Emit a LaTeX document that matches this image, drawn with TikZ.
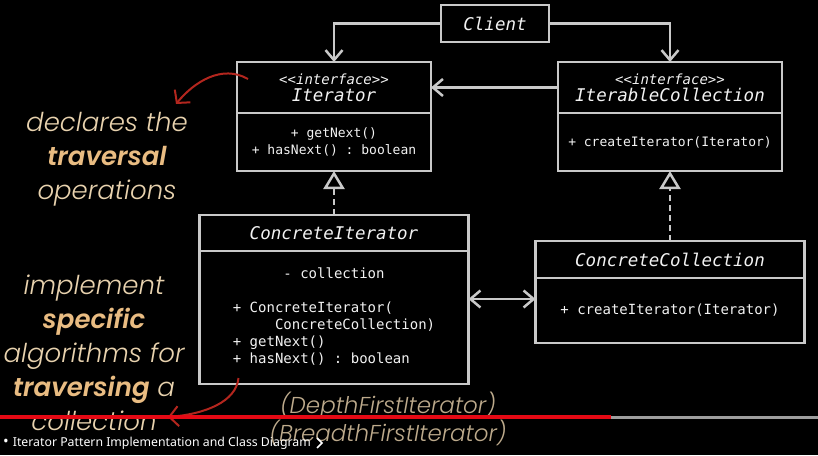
\documentclass[tikz,border=0pt]{standalone}
\usepackage{fontspec}
\setmainfont{Poppins}[UprightFont=* Light, ItalicFont=* Light Italic,
  BoldFont=* SemiBold, BoldItalicFont=* SemiBold Italic]
\setmonofont{DejaVu Sans Mono}
\newfontfamily\capfont{Noto Sans}
\usetikzlibrary{arrows.meta, positioning, calc}
\definecolor{lineGrey}{HTML}{C9C9C9}
\definecolor{textWhite}{HTML}{F2F2F2}
\definecolor{noteTan}{HTML}{E8D2AE}
\definecolor{noteGold}{HTML}{E9BC82}
\definecolor{noteRed}{HTML}{B3261E}
\definecolor{subTan}{HTML}{BDAA8C}
\definecolor{barRed}{HTML}{E50914}
\definecolor{barGrey}{HTML}{9E9E9E}

\newcommand{\titlefont}{\ttfamily\itshape\fontsize{17.5}{20}\selectfont}
\newcommand{\stereofont}{\ttfamily\itshape\fontsize{14}{15}\selectfont}
\newcommand{\notebold}[1]{{\bfseries\color{noteGold}#1}}

\tikzset{
  classHead/.style={draw=lineGrey, line width=2.5pt, text=textWhite, align=center,
    inner sep=0pt, outer sep=0pt, font=\titlefont},
  classBody/.style={draw=lineGrey, line width=2.5pt, text=textWhite, align=center,
    inner sep=0pt, outer sep=0pt, font=\ttfamily\fontsize{13}{17}\selectfont},
  assoc/.style={draw=lineGrey, line width=2.5pt, -{Straight Barb[length=10pt, width=17pt]}},
  assocBoth/.style={draw=lineGrey, line width=2.5pt,
    {Straight Barb[length=10pt, width=17pt]}-{Straight Barb[length=10pt, width=17pt]}},
  realize/.style={draw=lineGrey, line width=2.5pt, dash pattern=on 6pt off 4pt,
    -{Triangle[open, length=18pt, width=21pt, line width=2.5pt]}},
  noteText/.style={text=noteTan, align=center, inner sep=0pt,
    font=\itshape\fontsize{26}{34}\selectfont},
  noteArrow/.style={draw=noteRed, line width=2pt, -{Straight Barb[length=9pt, width=20pt]}}
}

\begin{document}
\begin{tikzpicture}[x=1pt, y=-1pt]
  \useasboundingbox (0,0) rectangle (818,455);
  \fill[black] (0,0) rectangle (818,455);

  % classes
  \node[classHead, minimum width=108pt, minimum height=37pt] (client) at (495,23.5) {Client};

  \node[classHead, minimum width=194pt, minimum height=51pt] (iter) at (334,87.5)
    {{\stereofont <{}<interface>{}>}\\[-3pt]Iterator};
  \node[classBody, minimum width=194pt, minimum height=58pt, below=0pt of iter] (iterbody)
    {+ getNext()\\+ hasNext() : boolean};

  \node[classHead, minimum width=224pt, minimum height=51pt] (coll) at (670,87.5)
    {{\stereofont <{}<interface>{}>}\\[-3pt]IterableCollection};
  \node[classBody, minimum width=224pt, minimum height=58pt, below=0pt of coll] (collbody)
    {+ createIterator(Iterator)};

  \node[classHead, minimum width=269pt, minimum height=36pt] (citer) at (334,233) {ConcreteIterator};
  \node[classBody, minimum width=269pt, minimum height=133pt, below=0pt of citer,
    font=\ttfamily\fontsize{14}{17}\selectfont] (citerbody)
    {\begin{tabular}{@{}l@{}}
       \multicolumn{1}{@{}c@{}}{- collection}\\[17pt]
       + ConcreteIterator(\\
       \phantom{00000}ConcreteCollection)\\
       + getNext()\\
       + hasNext() : boolean
     \end{tabular}};

  \node[classHead, minimum width=269pt, minimum height=37pt] (ccoll) at (670,259.5) {ConcreteCollection};
  \node[classBody, minimum width=269pt, minimum height=65pt, below=0pt of ccoll,
    font=\ttfamily\fontsize{14}{17}\selectfont] (ccollbody)
    {+ createIterator(Iterator)};

  % relations
  \draw[assoc] (client.west) -| (iter.north);
  \draw[assoc] (client.east) -| (coll.north);
  \draw[assoc] (coll.west) -- (iter.east);
  \draw[realize] (citer.north) -- (iterbody.south);
  \draw[realize] (ccoll.north) -- (collbody.south);
  \coordinate (linkR) at ($(ccollbody.west)+(0,-11.5)$);
  \draw[assocBoth] (citerbody.east |- linkR) -- (linkR);

  % notes
  \node[noteText] (declNote) at (107,159)
    {declares the\\\notebold{traversal}\\operations};
  \node[noteText] (implNote) at (94,353)
    {implement\\\notebold{specific}\\algorithms for\\\notebold{traversing} a\\collection};
  \node[noteText, text=subTan, font=\itshape\fontsize{23}{28}\selectfont] (subNote) at (388,419)
    {(DepthFirstIterator)\\(BreadthFirstIterator)};

  \coordinate (declFrom) at ($(iter.west)+(11,-8.5)$);
  \coordinate (declTo) at (176,104);
  \draw[noteArrow] (declFrom) .. controls (222,64) and (194,82) .. (declTo);
  \coordinate (implFrom) at ($(citerbody.south west)+(39,-6)$);
  \coordinate (implTo) at (168,417);
  \draw[noteArrow] (implFrom) .. controls (236,402) and (205,414) .. (implTo);

  % player bar
  \draw[barGrey, line width=3pt] (611,417) -- (818,417);
  \draw[barRed, line width=4pt] (0,417) -- (611,417);
  \node[anchor=west, text=white, inner sep=0pt, font=\capfont\fontsize{12.3}{14}\selectfont] (caption) at (3,443)
    {{\fontsize{15}{15}\selectfont •}\hspace{4pt}Iterator Pattern Implementation and Class Diagram};
  \draw[white, line width=1.6pt] ($(caption.east)+(6,-5)$) -- ++(5,5) -- ++(-5,5);
\end{tikzpicture}
\end{document}
